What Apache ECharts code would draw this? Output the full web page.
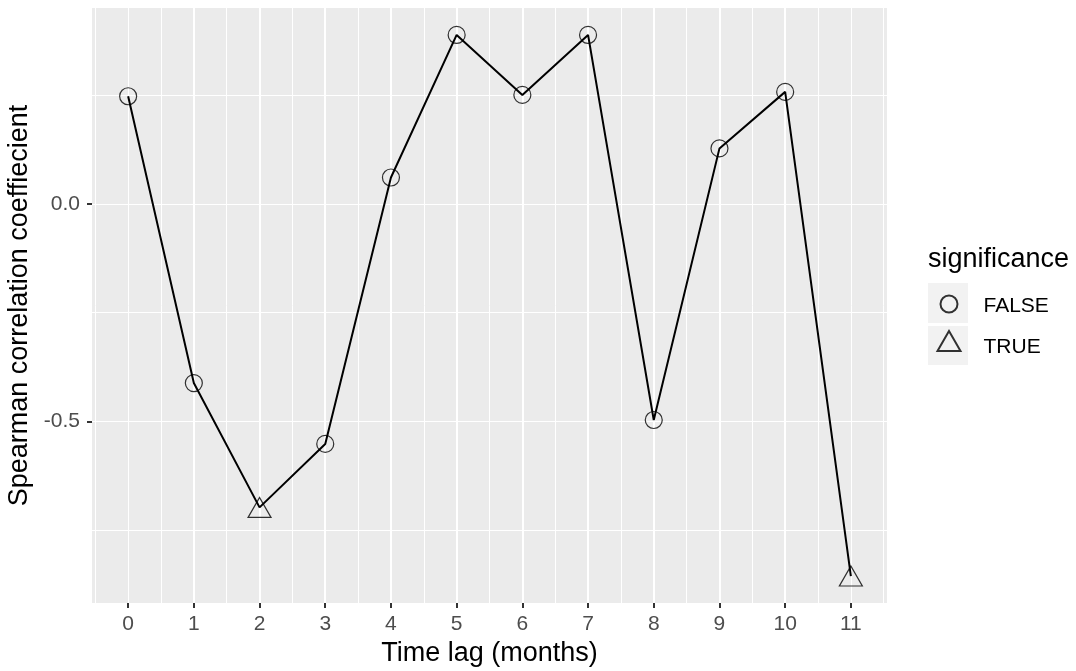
<!DOCTYPE html>
<html>
<head>
<meta charset="utf-8">
<script src="https://cdn.jsdelivr.net/npm/echarts@6/dist/echarts.min.js"></script>
<style>
  html, body { margin: 0; padding: 0; background: #fff; }
  #chart { width: 1076px; height: 671px; }
</style>
</head>
<body>
<div id="chart"></div>
<script>
// Spearman correlation by time lag
const lags = [0, 1, 2, 3, 4, 5, 6, 7, 8, 9, 10, 11];
const rho = [0.248, -0.412, -0.698, -0.552, 0.061, 0.389, 0.251, 0.389, -0.497, 0.128, 0.258, -0.856];
const significance = [false, false, true, false, false, false, false, false, false, false, false, true];
const xTicks = [0, 1, 2, 3, 4, 5, 6, 7, 8, 9, 10, 11];
const yTicks = [-0.5, 0];
const xRange = [-0.55, 11.55];
const yRange = [-0.918, 0.451];

const FONT = "'Liberation Sans', Arial, sans-serif";
const linePts = lags.map((l, i) => [l, rho[i]]);
const falsePts = linePts.filter((_, i) => !significance[i]);
const truePts = linePts.filter((_, i) => significance[i]);

const hidden = { show: false };
const noLine = { show: false, onZero: false };

function legendText(padTop, padLeft) {
  return {
    formatter: '{k|{name}}',
    textStyle: {
      rich: { k: { fontFamily: FONT, fontSize: 21, color: '#000', padding: [padTop, 0, 0, padLeft] } }
    }
  };
}

const option = {
  animation: false,
  backgroundColor: '#ffffff',
  grid: {
    left: 92, right: 189, top: 8, bottom: 68,
    outerBoundsMode: 'none', containLabel: false,
    show: true, backgroundColor: '#EBEBEB', borderWidth: 0
  },
  xAxis: [
    {
      type: 'value', min: xRange[0], max: xRange[1], position: 'bottom',
      minInterval: 1, maxInterval: 1,
      name: 'Time lag (months)', nameLocation: 'middle', nameGap: 35,
      nameTextStyle: { fontFamily: FONT, fontSize: 27, color: '#000' },
      axisLine: noLine,
      axisTick: { show: true, length: 5, customValues: xTicks, lineStyle: { color: '#333', width: 2 } },
      axisLabel: { customValues: xTicks, margin: 11, fontFamily: FONT, fontSize: 21, color: '#4D4D4D' },
      splitLine: { show: true, showMinLine: false, showMaxLine: false, lineStyle: { color: '#fff', width: 2 } }
    },
    {
      type: 'value', min: xRange[0], max: xRange[1], position: 'bottom',
      minInterval: 0.5, maxInterval: 0.5,
      axisLine: noLine, axisTick: hidden, axisLabel: hidden,
      splitLine: { show: true, showMinLine: false, showMaxLine: false, lineStyle: { color: '#fff', width: 1 } }
    }
  ],
  yAxis: [
    {
      type: 'value', min: yRange[0], max: yRange[1], position: 'left',
      minInterval: 0.5, maxInterval: 0.5,
      name: 'Spearman correlation coeffiecient', nameLocation: 'middle', nameGap: 52,
      nameTextStyle: { fontFamily: FONT, fontSize: 27, color: '#000' },
      axisLine: noLine,
      axisTick: { show: true, length: 5, customValues: yTicks, lineStyle: { color: '#333', width: 2 } },
      axisLabel: { customValues: yTicks, margin: 12, fontFamily: FONT, fontSize: 21, color: '#4D4D4D',
                   formatter: v => v.toFixed(1) },
      splitLine: { show: true, showMinLine: false, showMaxLine: false, lineStyle: { color: '#fff', width: 2 } }
    },
    {
      type: 'value', min: yRange[0], max: yRange[1], position: 'left',
      minInterval: 0.25, maxInterval: 0.25,
      axisLine: noLine, axisTick: hidden, axisLabel: hidden,
      splitLine: { show: true, showMinLine: false, showMaxLine: false, lineStyle: { color: '#fff', width: 1 } }
    }
  ],
  legend: [
    Object.assign({
      data: ['FALSE'], orient: 'vertical', left: 939.5, top: 294.5, padding: 0,
      itemWidth: 17, itemHeight: 17, selectedMode: false
    }, legendText(4, 21)),
    Object.assign({
      data: ['TRUE'], orient: 'vertical', left: 936.5, top: 330, padding: 0,
      itemWidth: 23, itemHeight: 20, selectedMode: false
    }, legendText(12, 18))
  ],
  graphic: [
    { type: 'rect', z: -10, shape: { x: 928, y: 283, width: 40, height: 40 }, style: { fill: '#F2F2F2' } },
    { type: 'rect', z: -10, shape: { x: 928, y: 326, width: 40, height: 39 }, style: { fill: '#F2F2F2' } },
    { type: 'text', x: 928, y: 260,
      style: { text: 'significance', font: '27px ' + FONT, fill: '#000', verticalAlign: 'middle' } }
  ],
  series: [
    {
      type: 'line', data: linePts, xAxisIndex: 0, yAxisIndex: 0,
      symbol: 'none', silent: true,
      lineStyle: { color: '#000', width: 2 }
    },
    {
      name: 'FALSE', type: 'scatter', data: falsePts, xAxisIndex: 0, yAxisIndex: 0,
      symbol: 'circle', symbolSize: 17,
      itemStyle: { color: 'rgba(0,0,0,0)', borderColor: '#000', borderWidth: 1.2 }
    },
    {
      name: 'TRUE', type: 'scatter', data: truePts, xAxisIndex: 0, yAxisIndex: 0,
      symbol: 'triangle', symbolSize: [23, 20],
      itemStyle: { color: 'rgba(0,0,0,0)', borderColor: '#000', borderWidth: 1.2 }
    }
  ]
};

const chart = echarts.init(document.getElementById('chart'), null, { renderer: 'canvas' });
chart.setOption(option);
</script>
</body>
</html>
